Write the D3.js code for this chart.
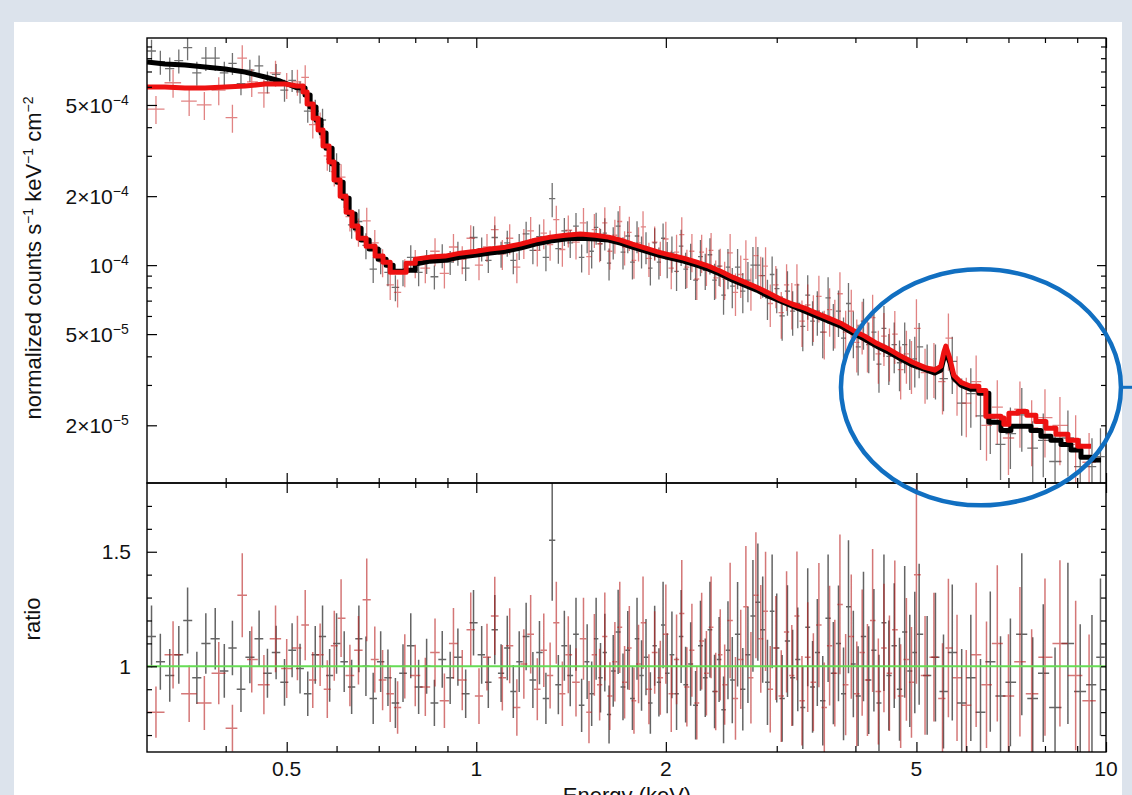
<!DOCTYPE html>
<html>
<head>
<meta charset="utf-8">
<script src="https://cdn.jsdelivr.net/npm/d3@7"></script>
<style>
  body { margin: 0; background: #dce3ec; }
  svg { display: block; font-family: "Liberation Sans", Arial, sans-serif; }
</style>
</head>
<body>
<svg id="chart" width="1132" height="795"></svg>
<script>
// flux values are in units of 1e-4 counts s^-1 keV^-1 cm^-2
const FLUX_UNIT = 1e-4;

// black spectrum: bin centre (keV), flux, ratio, relative error
const blackEnergy = [
  0.305,0.315,0.326,0.337,0.348,0.36,0.372,0.385,0.398,0.41,
  0.423,0.437,0.452,0.466,0.481,0.496,0.51,0.525,0.54,0.555,
  0.57,0.585,0.6,0.617,0.634,0.651,0.668,0.686,0.705,0.724,
  0.744,0.765,0.787,0.81,0.834,0.858,0.883,0.909,0.935,0.962,
  0.99,1.02,1.045,1.07,1.095,1.12,1.145,1.17,1.2,1.23,
  1.26,1.29,1.32,1.35,1.38,1.41,1.44,1.47,
  1.5,1.525,1.55,1.575,1.6,1.625,1.65,1.68,1.71,1.74,
  1.77,1.8,1.83,1.86,1.89,1.92,1.95,1.98,
  2.01,2.045,2.08,2.115,2.15,2.19,2.23,2.27,2.31,2.35,
  2.39,2.43,2.47,
  2.51,2.55,2.6,2.65,2.7,2.75,2.8,2.85,2.9,2.95,
  3.0,3.06,3.12,3.18,3.24,3.3,3.36,3.42,3.48,
  3.55,3.62,3.69,3.76,3.83,3.9,3.97,
  4.04,4.12,4.2,4.28,4.36,4.44,4.52,4.61,4.7,4.79,4.88,4.97,
  5.05,5.2,5.36,5.52,5.7,5.9,6.1,6.32,6.55,6.8,
  7.05,7.35,7.65,7.95,8.3,8.7,9.1,9.5,9.8
];
const blackFlux = [
  8.6,7.7,7.2,7.8,8.9,6.9,8.0,8.0,6.9,7.6,
  6.2,7.1,7.4,6.3,6.8,5.8,6.4,5.7,4.7,4.7,
  4.3,2.9,2.75,2.04,1.50,1.55,1.22,0.96,1.05,0.93,
  0.80,0.93,1.08,0.93,1.04,0.89,1.10,1.03,1.13,0.97,
  1.32,1.18,1.05,1.32,1.12,1.25,1.05,1.21,1.37,1.16,
  1.33,1.08,1.95,1.18,1.41,1.25,1.48,1.08,
  1.34,1.15,1.46,1.24,1.38,1.02,1.26,1.48,1.14,1.34,
  1.03,1.34,1.15,1.20,0.97,1.25,1.03,1.31,
  1.07,1.13,0.94,1.21,0.96,1.05,0.86,1.09,0.95,1.11,
  0.86,0.99,0.74,
  0.98,0.81,0.98,0.77,0.86,1.00,1.00,0.90,0.72,0.91,
  0.79,0.60,0.77,0.63,0.68,0.54,0.74,0.57,0.63,
  0.51,0.72,0.55,0.63,0.48,0.68,0.51,
  0.44,0.57,0.45,0.51,0.37,0.53,0.40,0.45,0.375,0.45,0.38,0.39,
  0.44,0.355,0.355,0.32,0.38,0.25,0.275,0.22,0.214,0.165,
  0.184,0.222,0.159,0.172,0.139,0.176,0.132,0.132,0.146
];
const blackRatio = [
  1.13,1.02,0.96,1.05,1.20,0.95,1.10,1.12,0.98,1.08,
  0.90,1.04,1.12,0.97,1.06,0.93,1.07,0.99,0.88,1.05,
  1.13,0.96,1.10,1.02,0.91,1.12,1.00,0.86,1.02,0.95,
  0.84,0.97,1.09,0.91,1.00,0.84,1.03,0.95,1.04,0.88,
  1.19,1.05,0.93,1.16,0.97,1.08,0.89,1.02,1.13,0.94,
  1.06,0.86,1.55,0.92,1.09,0.96,1.14,0.83,
  1.02,0.88,1.12,0.95,1.06,0.79,0.98,1.15,0.91,1.07,
  0.86,1.12,0.96,1.04,0.84,1.09,0.93,1.18,
  0.97,1.05,0.88,1.13,0.92,1.01,0.83,1.09,0.95,1.16,
  0.89,1.03,0.81,
  1.07,0.94,1.14,0.90,1.05,1.22,1.28,1.16,0.93,1.24,
  1.08,0.86,1.11,0.95,1.03,0.82,1.17,0.91,1.06,
  0.85,1.21,0.97,1.10,0.88,1.26,1.01,
  0.87,1.13,0.94,1.07,0.84,1.19,0.96,1.09,0.90,1.15,0.98,1.06,
  1.14,0.96,1.04,0.89,1.06,0.84,0.95,0.80,1.02,0.87,
  0.93,1.14,0.86,0.97,0.82,1.10,0.89,0.92,1.04
];
const blackErr = [
  0.12,0.12,0.12,0.12,0.12,0.12,0.12,0.12,0.12,0.11,
  0.11,0.11,0.11,0.11,0.11,0.11,0.11,0.11,0.11,0.12,
  0.12,0.12,0.12,0.13,0.13,0.13,0.13,0.13,0.13,0.13,
  0.13,0.13,0.13,0.13,0.12,0.12,0.12,0.12,0.12,0.12,
  0.12,0.12,0.12,0.13,0.13,0.13,0.13,0.13,0.13,0.13,
  0.13,0.13,0.17,0.14,0.14,0.14,0.14,0.14,
  0.16,0.16,0.16,0.16,0.16,0.16,0.16,0.16,0.16,0.16,
  0.16,0.16,0.16,0.16,0.16,0.16,0.16,0.16,
  0.18,0.18,0.18,0.18,0.18,0.18,0.18,0.18,0.18,0.18,
  0.18,0.18,0.18,
  0.20,0.20,0.20,0.20,0.20,0.20,0.20,0.20,0.20,0.20,
  0.22,0.22,0.22,0.22,0.22,0.22,0.22,0.22,0.22,
  0.23,0.23,0.23,0.23,0.23,0.23,0.23,
  0.25,0.25,0.25,0.25,0.25,0.25,0.25,0.25,0.25,0.25,0.25,0.25,
  0.27,0.27,0.27,0.28,0.28,0.28,0.29,0.29,0.30,0.30,
  0.30,0.31,0.31,0.31,0.32,0.32,0.33,0.33,0.33
];

// red spectrum
const redEnergy = [
  0.31,0.33,0.35,0.37,0.39,0.41,0.425,0.44,0.46,0.48,
  0.50,0.52,0.535,0.55,0.565,0.58,0.595,0.61,0.63,0.65,
  0.67,0.69,0.71,0.73,0.75,0.77,0.80,0.83,0.86,0.89,
  0.92,0.95,0.98,1.01,1.04,1.07,1.10,1.13,1.16,1.19,
  1.22,1.25,1.28,1.31,1.34,1.37,1.40,1.44,1.48,
  1.51,1.54,1.57,1.60,1.63,1.66,1.69,1.72,1.75,1.78,
  1.81,1.84,1.88,1.92,1.96,
  2.00,2.04,2.08,2.12,2.16,2.20,2.24,2.28,2.32,2.36,
  2.40,2.44,2.48,
  2.53,2.58,2.63,2.68,2.73,2.78,2.83,2.88,2.93,2.99,
  3.05,3.11,3.17,3.23,3.29,3.36,3.43,3.50,
  3.57,3.64,3.71,3.78,3.86,3.94,
  4.02,4.10,4.18,4.26,4.35,4.44,4.53,4.62,4.72,4.82,4.91,
  5.00,5.16,5.33,5.50,5.62,5.80,6.00,6.22,6.46,6.72,
  7.00,7.30,7.62,8.00,8.45,8.95,9.40
];
const redFlux = [
  4.8,6.25,5.2,5.0,5.8,4.4,8.0,6.3,5.65,6.9,
  6.1,6.3,6.6,4.1,4.1,3.0,2.56,2.42,1.63,1.40,
  1.56,1.25,1.03,0.82,0.76,0.93,1.02,0.97,1.15,0.92,
  1.20,1.06,1.31,1.00,1.20,1.43,1.12,1.31,0.98,1.25,
  1.41,1.16,1.38,1.23,1.58,1.17,1.42,1.26,1.53,
  1.09,1.43,1.24,1.53,1.15,1.35,1.55,1.20,1.39,1.05,
  1.25,1.47,1.07,1.26,1.08,
  1.30,0.97,1.14,1.36,0.98,1.15,0.87,1.14,1.00,1.16,
  0.88,0.99,0.87,
  1.13,0.76,0.91,1.06,0.80,1.10,0.90,0.99,0.68,0.82,
  0.62,0.82,0.68,0.82,0.57,0.67,0.60,0.73,
  0.51,0.64,0.57,0.75,0.51,0.63,
  0.46,0.55,0.46,0.59,0.41,0.49,0.42,0.50,0.35,0.41,0.37,
  0.53,0.34,0.36,0.31,0.48,0.31,0.25,0.31,0.20,0.24,
  0.176,0.235,0.195,0.216,0.20,0.165,0.138
];
const redRatio = [
  0.80,1.05,0.88,0.84,0.97,0.73,1.31,1.03,0.92,1.12,
  0.99,1.08,1.18,0.94,1.05,0.90,1.09,1.21,0.96,1.07,
  1.29,1.03,0.94,0.88,0.82,1.00,0.96,0.91,1.06,0.85,
  1.10,0.94,1.16,0.87,1.04,1.22,0.95,1.09,0.82,1.01,
  1.14,0.90,1.07,0.96,1.19,0.88,1.05,0.93,1.12,
  0.80,1.05,0.92,1.13,0.87,1.02,1.17,0.93,1.08,0.85,
  1.01,1.19,0.90,1.06,0.95,
  1.14,0.88,1.03,1.23,0.91,1.07,0.84,1.11,0.97,1.17,
  0.89,1.05,0.92,
  1.20,0.86,1.03,1.26,0.95,1.31,1.12,1.24,0.90,1.08,
  0.87,1.15,0.96,1.22,0.85,1.04,0.93,1.18,
  0.82,1.09,0.97,1.27,0.92,1.13,
  0.88,1.06,0.94,1.20,0.89,1.08,0.97,1.16,0.87,1.03,0.93,
  1.40,0.96,1.04,0.86,1.08,0.95,0.83,1.05,0.92,1.10,
  0.87,1.02,0.88,1.04,1.10,0.96,0.85
];
const redErr = [
  0.14,0.14,0.14,0.14,0.14,0.14,0.14,0.14,0.14,0.13,
  0.13,0.13,0.13,0.13,0.13,0.14,0.14,0.14,0.14,0.14,
  0.14,0.14,0.14,0.14,0.14,0.14,0.14,0.14,0.14,0.14,
  0.14,0.14,0.14,0.14,0.14,0.14,0.15,0.15,0.15,0.15,
  0.15,0.15,0.15,0.15,0.15,0.16,0.16,0.16,0.16,
  0.17,0.17,0.17,0.17,0.17,0.17,0.17,0.17,0.17,0.17,
  0.17,0.17,0.17,0.17,0.17,
  0.19,0.19,0.19,0.19,0.19,0.19,0.19,0.19,0.19,0.19,
  0.19,0.19,0.19,
  0.21,0.21,0.21,0.21,0.21,0.21,0.21,0.21,0.21,0.21,
  0.23,0.23,0.23,0.23,0.23,0.23,0.23,0.23,
  0.24,0.24,0.24,0.24,0.24,0.24,
  0.26,0.26,0.26,0.26,0.26,0.26,0.26,0.26,0.26,0.26,0.26,
  0.34,0.27,0.27,0.28,0.28,0.29,0.29,0.30,0.30,0.31,
  0.31,0.32,0.32,0.33,0.33,0.34,0.34
];

// folded models (energy, flux)
const blackModelEnergy = [
  0.300,0.3203,0.3446,0.3709,0.3990,0.4293,0.4619,0.4880,0.5062,0.5193,
  0.5347,0.5447,0.5566,0.5669,0.5774,0.5903,0.6012,0.6146,0.6282,0.6421,
  0.6563,0.6759,0.6985,0.7192,0.7379,0.7713,0.8000,0.8451,0.8928,0.9431,
  1.000,1.052,1.112,1.175,1.241,1.311,1.385,1.463,1.546,1.622,
  1.694,1.770,1.857,1.947,2.034,2.133,2.238,2.338,2.443,2.553,
  2.668,2.788,2.912,3.043,3.180,3.323,3.471,3.627,3.791,3.962,
  4.139,4.324,4.519,4.722,4.934,5.155,5.348,5.467,5.527,5.568,
  5.649,5.732,5.882,6.101,6.282,6.516,6.809,7.063,7.326,7.600,
  7.882,8.177,8.482,8.797,9.126,9.467,9.820
];
const blackModelFlux = [
  7.70,7.55,7.47,7.32,7.18,6.96,6.62,6.36,6.11,5.93,
  5.53,4.90,4.30,3.77,3.24,2.76,2.30,1.96,1.67,1.45,
  1.286,1.175,1.062,1.00,0.941,0.951,1.01,1.041,1.051,1.084,
  1.106,1.128,1.15,1.186,1.235,1.273,1.30,1.31,1.30,1.286,
  1.248,1.198,1.15,1.106,1.073,1.041,1.00,0.961,0.913,0.860,
  0.818,0.778,0.732,0.696,0.662,0.630,0.599,0.569,0.542,0.505,
  0.475,0.443,0.417,0.389,0.366,0.351,0.338,0.348,0.392,0.417,
  0.377,0.321,0.299,0.287,0.276,0.206,0.190,0.198,0.198,0.190,
  0.179,0.172,0.165,0.156,0.145,0.141,0.141
];
const redModelEnergy = [
  0.300,0.3203,0.3446,0.3709,0.3990,0.4293,0.4619,0.4970,0.5193,0.5309,
  0.5387,0.5508,0.5607,0.5710,0.5838,0.5944,0.6079,0.6213,0.6350,0.6491,
  0.6685,0.6908,0.7112,0.7300,0.7738,0.8000,0.8451,0.8928,0.9431,1.000,
  1.052,1.112,1.175,1.241,1.311,1.385,1.463,1.546,1.622,1.694,
  1.770,1.857,1.947,2.034,2.133,2.238,2.338,2.443,2.553,2.668,
  2.788,2.912,3.043,3.180,3.323,3.471,3.627,3.791,3.962,4.139,
  4.324,4.519,4.722,4.934,5.155,5.348,5.467,5.527,5.568,5.649,
  5.732,5.882,6.101,6.282,6.445,6.809,6.884,7.012,7.246,7.487,
  7.738,8.027,8.327,8.702,9.026,9.467
];
const redModelFlux = [
  5.99,5.99,5.93,5.93,5.99,6.05,6.17,6.17,6.05,5.70,
  5.05,4.38,3.89,3.31,2.82,2.35,2.00,1.70,1.48,1.31,
  1.21,1.095,1.03,0.932,1.02,1.062,1.084,1.095,1.128,1.15,
  1.175,1.198,1.235,1.286,1.325,1.35,1.366,1.35,1.325,1.286,
  1.235,1.186,1.14,1.106,1.073,1.03,0.990,0.941,0.886,0.843,
  0.801,0.755,0.710,0.675,0.649,0.617,0.587,0.558,0.520,0.490,
  0.456,0.430,0.401,0.377,0.358,0.348,0.362,0.417,0.443,0.392,
  0.331,0.308,0.296,0.284,0.219,0.215,0.202,0.226,0.230,0.221,
  0.208,0.194,0.183,0.172,0.162,0.162
];
// energy bands where the folded model shows its channel steps
const stepBands = [[0.52, 0.8], [6.2, 10]];

// ticks
const energyMajor = [0.5, 1, 2, 5, 10];
const energyMinor = [0.4, 0.6, 0.7, 0.8, 0.9, 3, 4, 6, 7, 8, 9];
const energyLabels = ["0.5", "1", "2", "5", "10"];
const fluxMajor = [2e-5, 5e-5, 1e-4, 2e-4, 5e-4];
const fluxMinor = [3e-5, 4e-5, 6e-5, 7e-5, 8e-5, 9e-5, 3e-4, 4e-4, 6e-4, 7e-4, 8e-4, 9e-4];
const fluxDecades = [1e-4];
const fluxLabelBase = ["2×10", "5×10", "10", "2×10", "5×10"];
const fluxLabelExp = ["−5", "−5", "−4", "−4", "−4"];
const ratioMajor = [1, 1.5];
const ratioMinor = [0.7, 0.8, 0.9, 1.1, 1.2, 1.3, 1.4, 1.6, 1.7];
const ratioLabels = ["1", "1.5"];

// highlighted region (Fe K band)
const highlightEnergy = 6.33;
const highlightFlux = 2.93e-5;

const svg = d3.select("#chart");
const L = 147, R = 1106, T = 38, M = 483, B = 752;

const x = d3.scaleLog().domain([0.3, 10]).range([L, R]);
const yTop = d3.scaleLog().domain([1.12e-5, 9.8e-4]).range([M, T]);
const yBot = d3.scaleLinear().domain([0.626, 1.8]).range([B, M]);

// white sheet behind the figure
svg.append("rect").attr("x", 14).attr("y", 22).attr("width", 1108).attr("height", 800).attr("fill", "#fff");

const defs = svg.append("defs");
defs.append("clipPath").attr("id", "clipTop").append("rect")
  .attr("x", L).attr("y", T).attr("width", R - L).attr("height", M - T);
defs.append("clipPath").attr("id", "clipBot").append("rect")
  .attr("x", L).attr("y", M).attr("width", R - L).attr("height", B - M);

function makePoints(energy, flux, ratio, err) {
  const n = energy.length;
  return energy.map((e, i) => {
    const lo = i > 0 ? Math.sqrt(energy[i - 1] * e) : e / Math.sqrt(energy[1] / e);
    const hi = i < n - 1 ? Math.sqrt(e * energy[i + 1]) : e * Math.sqrt(e / energy[n - 2]);
    return { e, lo, hi, f: flux[i] * FLUX_UNIT, r: ratio[i], err: err[i] };
  });
}

const blackPts = makePoints(blackEnergy, blackFlux, blackRatio, blackErr);
const redPts = makePoints(redEnergy, redFlux, redRatio, redErr);

function crosses(g, pts, color, opacity, yScale, val, width) {
  const p = d3.path();
  pts.forEach(d => {
    const v = val(d);
    p.moveTo(x(d.e), yScale(v * (1 - d.err)));
    p.lineTo(x(d.e), yScale(v * (1 + d.err)));
    p.moveTo(x(d.lo), yScale(v));
    p.lineTo(x(d.hi), yScale(v));
  });
  g.append("path").attr("d", p.toString())
    .attr("fill", "none").attr("stroke", color)
    .attr("stroke-opacity", opacity).attr("stroke-width", width);
}

// stair the model inside the step bands, keep it smooth elsewhere
function modelPath(energy, flux) {
  const pts = [];
  energy.forEach((e, i) => {
    pts.push([e, flux[i]]);
    const next = energy[i + 1];
    if (next !== undefined && stepBands.some(([a, b]) => next > a && next <= b)) pts.push([next, flux[i]]);
  });
  return pts;
}

// top panel
const topPanel = svg.append("g").attr("clip-path", "url(#clipTop)");
crosses(topPanel, blackPts, "#111", 0.6, yTop, d => d.f, 1.3);
crosses(topPanel, redPts, "#c81e1e", 0.55, yTop, d => d.f, 1.3);

const modelLine = d3.line()
  .x(d => x(d[0]))
  .y(d => yTop(d[1] * FLUX_UNIT));

topPanel.append("path").datum(modelPath(blackModelEnergy, blackModelFlux))
  .attr("d", modelLine).attr("fill", "none").attr("stroke", "#000")
  .attr("stroke-width", 5).attr("stroke-linejoin", "round");
topPanel.append("path").datum(modelPath(redModelEnergy, redModelFlux))
  .attr("d", modelLine).attr("fill", "none").attr("stroke", "#ee1111")
  .attr("stroke-width", 5).attr("stroke-linejoin", "round");

// bottom panel
const botPanel = svg.append("g").attr("clip-path", "url(#clipBot)");
crosses(botPanel, blackPts, "#111", 0.65, yBot, d => d.r, 1.5);
crosses(botPanel, redPts, "#b81c1c", 0.6, yBot, d => d.r, 1.5);
botPanel.append("line")
  .attr("x1", L).attr("x2", R).attr("y1", yBot(1)).attr("y2", yBot(1))
  .attr("stroke", "#66dd55").attr("stroke-width", 2);

// axes (inward ticks only, frames drawn separately)
function tickAxis(axis, tx, ty, values, size) {
  svg.append("g").attr("transform", `translate(${tx},${ty})`)
    .call(axis.tickValues(values).tickSize(size).tickFormat(""))
    .call(g => g.select(".domain").remove())
    .call(g => g.selectAll("line").attr("stroke", "#000").attr("stroke-width", 1.2));
}

tickAxis(d3.axisTop(x), 0, T, energyMajor, -10);
tickAxis(d3.axisTop(x), 0, T, energyMinor, -5);
tickAxis(d3.axisBottom(x), 0, M, energyMajor, -10);
tickAxis(d3.axisBottom(x), 0, M, energyMinor, -5);
tickAxis(d3.axisTop(x), 0, M, energyMajor, -10);
tickAxis(d3.axisTop(x), 0, M, energyMinor, -5);
tickAxis(d3.axisBottom(x), 0, B, energyMajor, -10);
tickAxis(d3.axisBottom(x), 0, B, energyMinor, -6);

tickAxis(d3.axisLeft(yTop), L, 0, fluxMajor, -10);
tickAxis(d3.axisLeft(yTop), L, 0, fluxMinor, -5);
tickAxis(d3.axisRight(yTop), R, 0, fluxDecades, -9);
tickAxis(d3.axisRight(yTop), R, 0, fluxMinor.concat([2e-5, 5e-5, 2e-4, 5e-4]), -5);

tickAxis(d3.axisLeft(yBot), L, 0, ratioMajor, -10);
tickAxis(d3.axisLeft(yBot), L, 0, ratioMinor, -5);
tickAxis(d3.axisRight(yBot), R, 0, ratioMajor.concat(ratioMinor), -5);

// frames
[[T, M], [M, B]].forEach(([y0, y1]) => {
  svg.append("rect").attr("x", L).attr("y", y0).attr("width", R - L).attr("height", y1 - y0)
    .attr("fill", "none").attr("stroke", "#000").attr("stroke-width", 1.4);
});

// tick labels
svg.append("g").selectAll("text").data(energyMajor).join("text")
  .attr("x", d => x(d)).attr("y", 776)
  .attr("text-anchor", "middle").attr("font-size", 21).attr("fill", "#111")
  .text((d, i) => energyLabels[i]);

svg.append("g").selectAll("text").data(fluxMajor).join("text")
  .attr("x", 0).attr("y", d => yTop(d)).attr("dy", "0.36em")
  .attr("font-size", 21).attr("fill", "#111")
  .each(function (d, i) {
    const t = d3.select(this);
    t.append("tspan").text(fluxLabelBase[i]);
    t.append("tspan").attr("font-size", 14).attr("dy", -8).text(fluxLabelExp[i]);
    const box = this.getBBox();
    t.attr("x", 129 - box.width);
  });

svg.append("g").selectAll("text").data(ratioMajor).join("text")
  .attr("x", 131).attr("y", d => yBot(d)).attr("dy", "0.36em")
  .attr("text-anchor", "end").attr("font-size", 21).attr("fill", "#111")
  .text((d, i) => ratioLabels[i]);

// axis titles
const yt = svg.append("text").attr("transform", "translate(41,258) rotate(-90)")
  .attr("text-anchor", "middle").attr("font-size", 22).attr("fill", "#111");
const titleParts = [["normalized counts s", 0], ["−1", -8], [" keV", 8], ["−1", -8], [" cm", 8], ["−2", -8]];
titleParts.forEach(([t, shift]) => {
  yt.append("tspan").attr("font-size", shift < 0 ? 14 : 22).attr("dy", shift).text(t);
});

svg.append("text").attr("transform", "translate(40,619) rotate(-90)")
  .attr("text-anchor", "middle").attr("font-size", 22).attr("fill", "#111").text("ratio");

svg.append("text").attr("x", 627).attr("y", 803)
  .attr("text-anchor", "middle").attr("font-size", 22).attr("fill", "#111").text("Energy (keV)");

// annotation ellipse over the Fe K region
const cx = x(highlightEnergy), cy = yTop(highlightFlux);
svg.append("ellipse").attr("cx", cx).attr("cy", cy).attr("rx", 140).attr("ry", 118)
  .attr("fill", "none").attr("stroke", "#116fc1").attr("stroke-width", 4.5);
svg.append("line").attr("x1", cx + 140).attr("x2", 1132).attr("y1", cy).attr("y2", cy)
  .attr("stroke", "#116fc1").attr("stroke-width", 3);
</script>
</body>
</html>
